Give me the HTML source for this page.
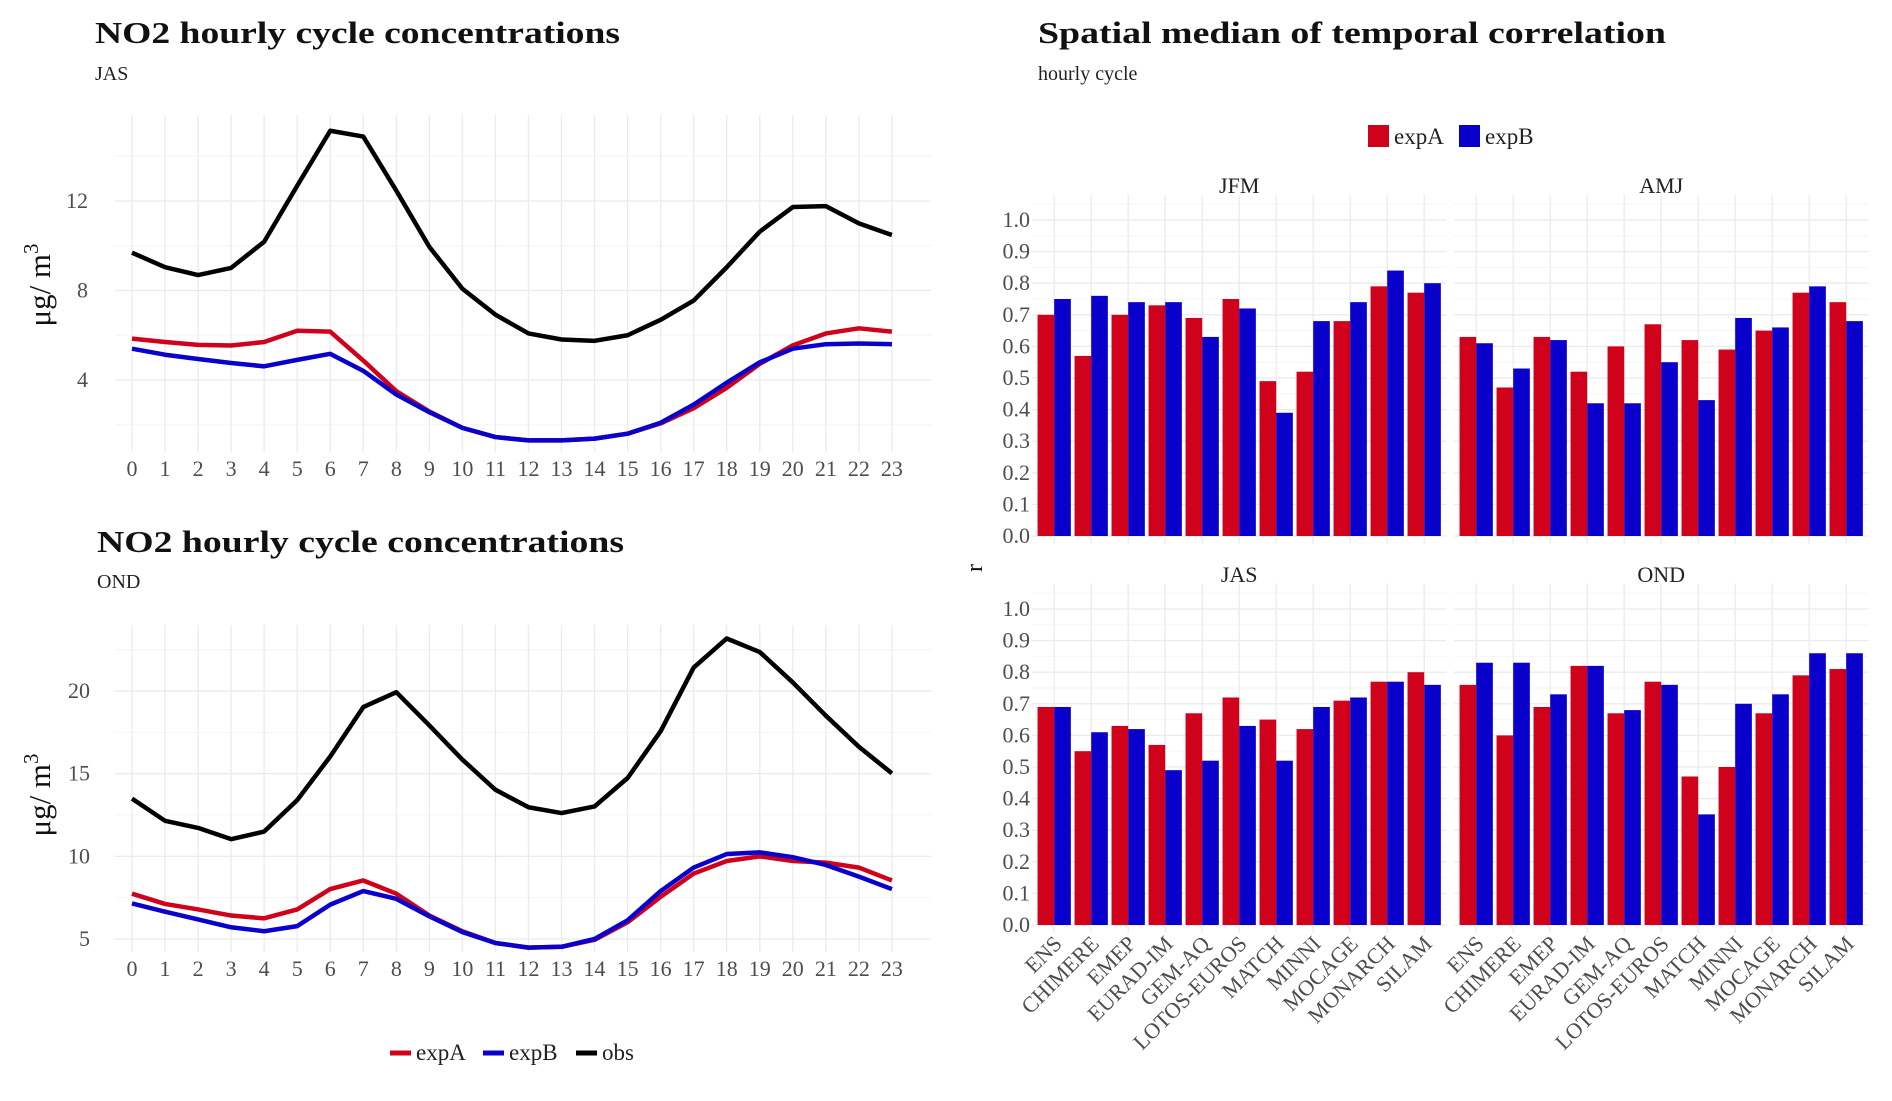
<!DOCTYPE html>
<html><head><meta charset="utf-8">
<style>
html,body{margin:0;padding:0;background:#fff;}
svg{display:block;font-family:"Liberation Serif","DejaVu Serif",serif;}
.tick{fill:#4d4d4d;font-size:22px;}
.title{font-weight:bold;font-size:31px;fill:#111;}
.sub{font-size:20px;fill:#222;}
.grid{stroke:#ebebeb;stroke-width:1.3;}
</style></head>
<body>
<svg id="chart" width="1892" height="1101" viewBox="0 0 1892 1101">
<text class="title" x="95" y="43" textLength="525" lengthAdjust="spacingAndGlyphs">NO2 hourly cycle concentrations</text>
<text class="sub" x="95" y="80">JAS</text>
<text class="title" x="97" y="552" textLength="527" lengthAdjust="spacingAndGlyphs">NO2 hourly cycle concentrations</text>
<text class="sub" x="97" y="588">OND</text>
<text class="title" x="1038" y="43" textLength="628" lengthAdjust="spacingAndGlyphs">Spatial median of temporal correlation</text>
<text class="sub" x="1038" y="80">hourly cycle</text>
<g id="layer"></g>
</svg>
<script>
const hours = [0,1,2,3,4,5,6,7,8,9,10,11,12,13,14,15,16,17,18,19,20,21,22,23];
const jasObs = [9.69,9.04,8.69,9.01,10.18,12.68,15.14,14.88,12.46,9.95,8.08,6.92,6.08,5.81,5.75,6.0,6.69,7.55,9.04,10.63,11.73,11.77,11.0,10.48];
const jasA = [5.85,5.7,5.57,5.54,5.7,6.2,6.16,4.87,3.5,2.59,1.86,1.45,1.3,1.3,1.38,1.6,2.06,2.74,3.65,4.72,5.55,6.08,6.31,6.16];
const jasB = [5.4,5.13,4.94,4.76,4.61,4.9,5.17,4.41,3.35,2.56,1.86,1.45,1.3,1.3,1.38,1.6,2.09,2.9,3.88,4.79,5.4,5.6,5.63,5.6];
const ondObs = [13.49,12.15,11.72,11.04,11.5,13.4,16.04,19.03,19.93,17.92,15.85,14.03,12.97,12.62,13.02,14.74,17.57,21.42,23.18,22.36,20.52,18.51,16.63,15.02];
const ondA = [7.74,7.12,6.79,6.42,6.25,6.79,8.02,8.54,7.74,6.42,5.47,4.76,4.48,4.53,4.95,6.01,7.55,8.96,9.72,10.0,9.72,9.62,9.32,8.54];
const ondB = [7.15,6.65,6.18,5.71,5.47,5.78,7.08,7.9,7.43,6.37,5.42,4.76,4.48,4.53,5.0,6.13,7.9,9.32,10.14,10.24,9.95,9.48,8.77,8.02];
const jasTicks = [4,8,12];
const ondTicks = [5,10,15,20];

const models = ["ENS","CHIMERE","EMEP","EURAD-IM","GEM-AQ","LOTOS-EUROS","MATCH","MINNI","MOCAGE","MONARCH","SILAM"];
const jfmA = [0.70,0.57,0.70,0.73,0.69,0.75,0.49,0.52,0.68,0.79,0.77];
const jfmB = [0.75,0.76,0.74,0.74,0.63,0.72,0.39,0.68,0.74,0.84,0.80];
const amjA = [0.63,0.47,0.63,0.52,0.60,0.67,0.62,0.59,0.65,0.77,0.74];
const amjB = [0.61,0.53,0.62,0.42,0.42,0.55,0.43,0.69,0.66,0.79,0.68];
const jasRA = [0.69,0.55,0.63,0.57,0.67,0.72,0.65,0.62,0.71,0.77,0.80];
const jasRB = [0.69,0.61,0.62,0.49,0.52,0.63,0.52,0.69,0.72,0.77,0.76];
const ondRA = [0.76,0.60,0.69,0.82,0.67,0.77,0.47,0.50,0.67,0.79,0.81];
const ondRB = [0.83,0.83,0.73,0.82,0.68,0.76,0.35,0.70,0.73,0.86,0.86];
const rTicks = [0.0,0.1,0.2,0.3,0.4,0.5,0.6,0.7,0.8,0.9,1.0];

const NS='http://www.w3.org/2000/svg';
const layer=document.getElementById('layer');
function mk(tag,attrs,parent){const e=document.createElementNS(NS,tag);for(const k in attrs)e.setAttribute(k,attrs[k]);(parent||layer).appendChild(e);return e;}
const RED='#d0021b', BLUE='#0a00cc';

function lineChart(o){
  const g=mk('g',{});
  
  
  const x=h=>132+h*33.04;
  const y=v=>o.y0-(v-o.v0)*o.k;
  for(let m=o.minor0;m<=o.minorMax;m+=o.minorStep){mk('line',{x1:115,x2:931,y1:y(m),y2:y(m),stroke:'#f4f4f4','stroke-width':1},g);}
  hours.forEach(h=>{mk('line',{class:'grid',x1:x(h),x2:x(h),y1:o.top,y2:o.bot},g);});
  o.ticks.forEach(t=>{mk('line',{class:'grid',x1:115,x2:931,y1:y(t),y2:y(t)},g);
    const tx=mk('text',{class:'tick','text-anchor':'end',x:o.tickX,y:y(t)+7},g);tx.textContent=t;
    
    });
  hours.forEach(h=>{const tx=mk('text',{class:'tick','text-anchor':'middle',x:x(h),y:o.bot+24},g);tx.textContent=h;
    
    });
  [[o.a,RED,'expA'],[o.b,BLUE,'expB'],[o.obs,'#000','obs']].forEach(([d,c,n])=>{
    const p=mk('polyline',{points:d.map((v,i)=>x(hours[i])+','+y(v)).join(' '),fill:'none',stroke:c,'stroke-width':4.5,'stroke-linejoin':'round'},g);
    
    
  });
  const yt=mk('text',{x:0,y:0,transform:`translate(${o.ytx},${o.yty}) rotate(-90)`,'text-anchor':'middle','font-size':'31px',fill:'#111'},g);
  yt.innerHTML='μg/ m<tspan dy="-12" font-size="21px">3</tspan>';
  
  
}
lineChart({name:'jas-line-chart',a:jasA,b:jasB,obs:jasObs,ticks:jasTicks,y0:380,v0:4,k:22.375,top:115,bot:452,tickX:88,ytx:50,yty:285,minor0:2,minorMax:14,minorStep:4});
lineChart({name:'ond-line-chart',a:ondA,b:ondB,obs:ondObs,ticks:ondTicks,y0:939,v0:5,k:16.53,top:625,bot:952,tickX:90,ytx:50,yty:795,minor0:7.5,minorMax:22.5,minorStep:5});

[[390,RED,'expA'],[483,BLUE,'expB'],[576,'#000','obs']].forEach(([lx,c,n])=>{
  const l=mk('line',{x1:lx,x2:lx+21,y1:1053,y2:1053,stroke:c,'stroke-width':5});
  
  
  const t=mk('text',{x:lx+26,y:1060,'font-size':'23px',fill:'#222'});t.textContent=n;
  
  
});

function barPanel(o){
  const g=mk('g',{});
  
  
  const w=37.0, x0=o.x0, x1=x0+11.2*w;
  const y=v=>o.zero-v*316;
  const cx=i=>x0+(i+0.6)*w;
  rTicks.forEach(t=>{mk('line',{class:'grid',x1:x0,x2:x1,y1:y(t),y2:y(t)},g);
    mk('line',{stroke:'#f5f5f5','stroke-width':1,x1:x0,x2:x1,y1:y(t+0.05),y2:y(t+0.05)},g);});
  models.forEach((m,i)=>mk('line',{class:'grid',x1:cx(i),x2:cx(i),y1:y(1.08),y2:o.zero+8},g));
  models.forEach((m,i)=>{
    const bw=0.45*w;
    const ra=mk('rect',{x:cx(i)-bw,y:y(o.a[i]),width:bw,height:y(0)-y(o.a[i]),fill:RED},g);
    
    
    const rb=mk('rect',{x:cx(i),y:y(o.b[i]),width:bw,height:y(0)-y(o.b[i]),fill:BLUE},g);
    
    
  });
  const ft=mk('text',{x:(x0+x1)/2,y:y(1)-27,'text-anchor':'middle','font-size':'22px',fill:'#222'},g);
  ft.textContent=o.label;
  
  
  if(o.yTicks){rTicks.forEach(t=>{const tx=mk('text',{class:'tick','text-anchor':'end',x:1030,y:y(t)+7},g);tx.textContent=t.toFixed(1);
    
    });}
  if(o.xLabels){models.forEach((m,i)=>{const tx=mk('text',{class:'tick','text-anchor':'end',x:0,y:0,'font-size':'23px',transform:`translate(${cx(i)+9},${o.zero+20}) rotate(-45)`},g);tx.textContent=m;
    
    });}
}
barPanel({name:'jfm-panel',label:'JFM',x0:1032,zero:536,a:jfmA,b:jfmB,yTicks:true});
barPanel({name:'amj-panel',label:'AMJ',x0:1454,zero:536,a:amjA,b:amjB});
barPanel({name:'jas-panel',label:'JAS',x0:1032,zero:925,a:jasRA,b:jasRB,yTicks:true,xLabels:true});
barPanel({name:'ond-panel',label:'OND',x0:1454,zero:925,a:ondRA,b:ondRB,xLabels:true});

const rl=mk('text',{x:0,y:0,transform:'translate(982,568) rotate(-90)','text-anchor':'middle','font-size':'24px',fill:'#111'});rl.textContent='r';



[[1368,RED,'expA'],[1459,BLUE,'expB']].forEach(([lx,c,n])=>{
  const r=mk('rect',{x:lx,y:125,width:21,height:22,fill:c});
  
  
  const t=mk('text',{x:lx+26,y:144,'font-size':'23px',fill:'#222'});t.textContent=n;
  
  
});
</script>
</body></html>
